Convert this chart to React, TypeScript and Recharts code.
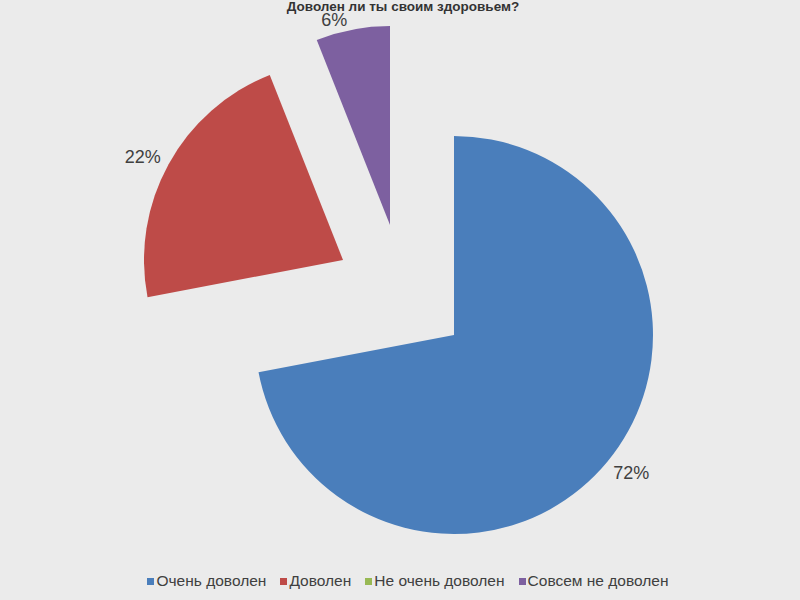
import React from 'react';
import { PieChart, Pie, Cell, Legend } from 'recharts';

// Survey answers and their shares, percent
const categories = ['Очень доволен', 'Доволен', 'Не очень доволен', 'Совсем не доволен'];
const shares = [72, 22, 0, 6];
const colors = ['#4a7ebb', '#be4b48', '#98b954', '#7d60a0'];

const title = 'Доволен ли ты своим здоровьем?';

// Exploded slices: each visible slice gets its own pie center
const sliceCenters = [
  { cx: 454, cy: 335 },
  { cx: 343, cy: 260 },
  { cx: 390, cy: 225 },
  { cx: 390, cy: 225 },
];
// small hand nudges so the percent labels sit where the original put them
const labelNudges = [
  { gap: 26, dx: 4, dy: -5 },
  { gap: 26, dx: -3, dy: 5 },
  { gap: 13, dx: 0, dy: 0 },
  { gap: 13, dx: -16, dy: 3 },
];
const visibleSlices = [0, 1, 3];

const RADIAN = Math.PI / 180;
const RADIUS = 199;
const FONT = "'Liberation Sans', Arial, sans-serif";

const data = categories.map((name, i) => ({ name, value: shares[i] }));

const makeLabel = (target: number) => (props: any) => {
  const { cx, cy, midAngle, outerRadius, index, value } = props;
  if (index !== target) return null;
  const n = labelNudges[target];
  const r = outerRadius + n.gap;
  const x = cx + r * Math.cos(-midAngle * RADIAN) + n.dx;
  const y = cy + r * Math.sin(-midAngle * RADIAN) + n.dy;
  return (
    <text
      x={x}
      y={y}
      fill="#404040"
      fontSize={18}
      textAnchor="middle"
      dominantBaseline="central"
      fontFamily={FONT}
    >
      {`${value}%`}
    </text>
  );
};

const renderLegend = () => (
  <div
    style={{
      display: 'flex',
      justifyContent: 'center',
      fontFamily: FONT,
      fontSize: 15.5,
      color: '#404040',
    }}
  >
    {categories.map((name, i) => (
      <div key={name} style={{ display: 'flex', alignItems: 'center', marginRight: i < categories.length - 1 ? 14 : 0 }}>
        <span style={{ display: 'inline-block', width: 7, height: 7, background: colors[i], marginRight: 2 }} />
        <span>{name}</span>
      </div>
    ))}
  </div>
);

const App: React.FC = () => {
  return (
    <div
      style={{
        position: 'absolute',
        left: 0,
        top: 0,
        width: 800,
        height: 600,
        background: '#ebebeb',
        overflow: 'hidden',
      }}
    >
      <div
        style={{
          position: 'absolute',
          top: -1,
          left: 0,
          width: 806,
          textAlign: 'center',
          fontFamily: FONT,
          fontWeight: 'bold',
          fontSize: 13.5,
          color: '#333',
        }}
      >
        {title}
      </div>
      <PieChart width={800} height={600} margin={{ top: 0, right: 0, bottom: 0, left: 0 }}>
        {visibleSlices.map((s) => (
          <Pie
            key={`pie-${s}`}
            data={data}
            dataKey="value"
            nameKey="name"
            cx={sliceCenters[s].cx}
            cy={sliceCenters[s].cy}
            outerRadius={RADIUS}
            startAngle={90}
            endAngle={-270}
            stroke="none"
            label={makeLabel(s)}
            labelLine={false}
            isAnimationActive={false}
            legendType="none"
          >
            {data.map((entry, index) => (
              <Cell key={`cell-${s}-${index}`} fill={index === s ? colors[index] : 'transparent'} />
            ))}
          </Pie>
        ))}
        <Legend
          content={renderLegend}
          verticalAlign="bottom"
          wrapperStyle={{ bottom: 10, left: 8, width: 800 }}
        />
      </PieChart>
    </div>
  );
};

export default App;
